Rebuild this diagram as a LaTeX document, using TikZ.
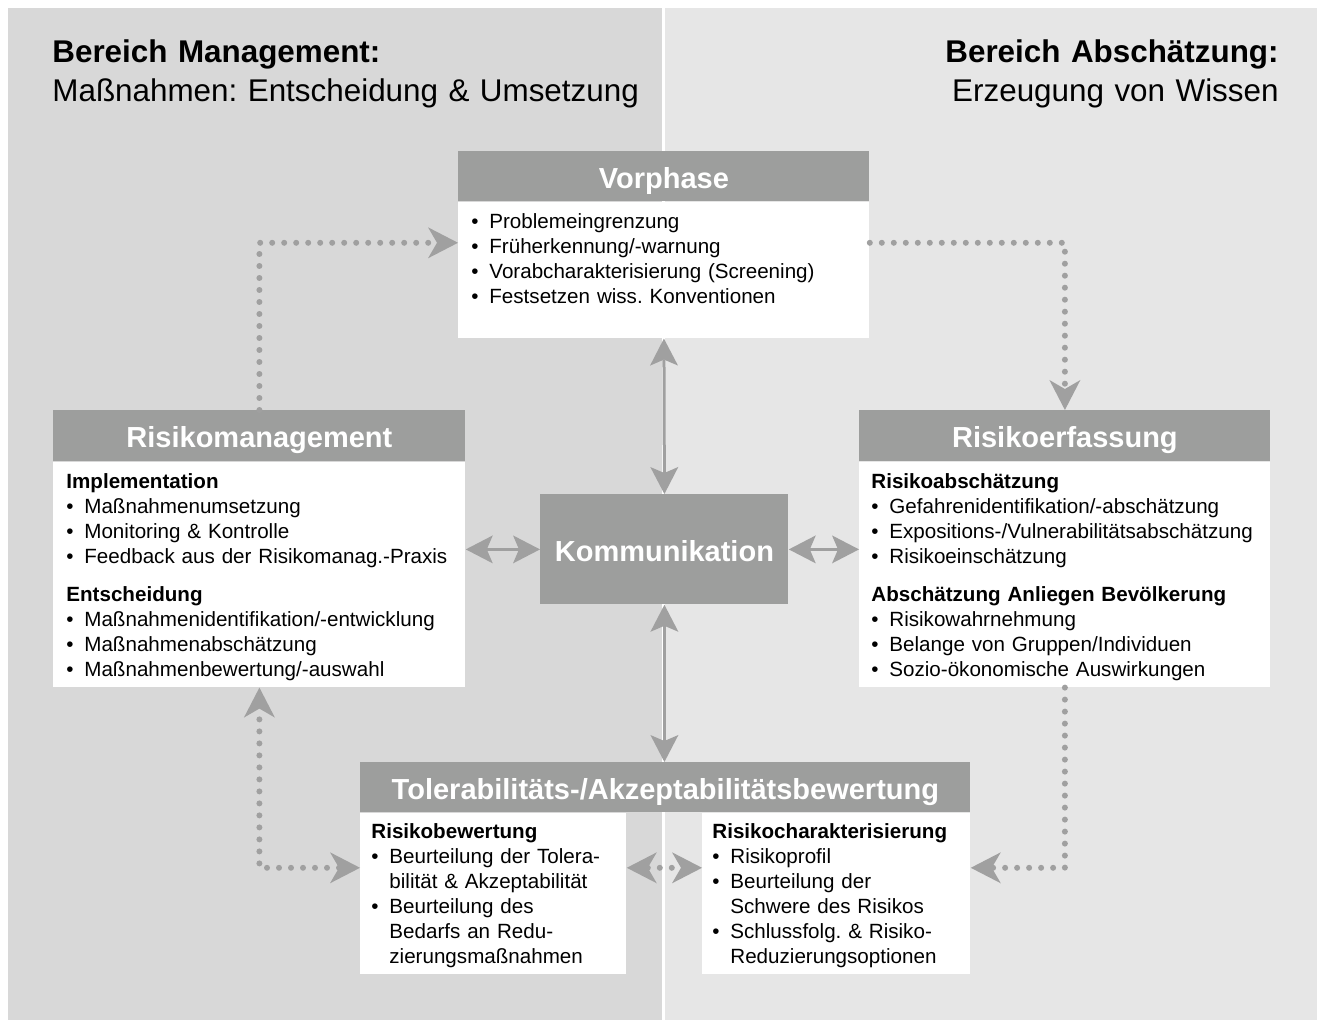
\documentclass[tikz,border=0pt]{standalone}
\usepackage{fontspec}
\setmainfont{Liberation Sans}
\frenchspacing
\usetikzlibrary{positioning,calc,arrows.meta}
\definecolor{riskpanelleft}{RGB}{216,216,216}
\definecolor{riskpanelright}{RGB}{230,230,230}
\definecolor{riskhead}{RGB}{157,158,157}
\definecolor{risklink}{RGB}{160,160,160}
\newcommand{\itm}{\makebox[9pt][l]{\textbullet}}
\newcommand{\cnt}{\hspace*{9pt}}
\tikzset{
    flowtip/.tip={Stealth[length=13.5pt,width=14pt,inset=3pt,line width=0pt]},
    dottip/.tip={Stealth[length=15pt,width=15.5pt,inset=4.5pt,line width=0pt]},
    risk head/.style={
        rectangle,
        fill=riskhead,
        text=white,
        font=\bfseries\fontsize{14.5}{17}\selectfont,
        text height=12pt,
        text depth=0pt,
        inner sep=0pt,
        anchor=north west,
        minimum height=25pt
    },
    risk body/.style={
        rectangle,
        fill=white,
        inner sep=0pt,
        minimum height=#1
    },
    risk list/.style={
        anchor=base west,
        inner sep=0pt,
        text width=#1,
        align=left,
        font=\fontsize{10.3}{12.5}\selectfont
    },
    area title/.style={
        inner sep=0pt,
        text width=320pt,
        font=\fontsize{15.7}{19.5}\selectfont
    },
    flow/.style={draw=risklink, line width=1.5pt, flowtip-flowtip},
    dotted link/.style={draw=risklink, line width=3pt, line cap=round, dash pattern=on 0pt off 6pt}
}

\begin{document}
\begin{tikzpicture}[x=0.5pt,y=-0.5pt]
    \useasboundingbox (0,0) rectangle (1317,1020);
    %two areas behind the diagram
    \fill[white] (0,0) rectangle (1317,1020);
    \fill[riskpanelleft] (8,8) rectangle (662,1020);
    \fill[riskpanelright] (665,8) rectangle (1317,1020);

    \node[area title, anchor=base west, align=left] (management-title) at (52,63) {\textbf{Bereich Management:}\\Maßnahmen: Entscheidung \& Umsetzung};
    \node[area title, anchor=base east, align=right] (assessment-title) at (1279,63) {\textbf{Bereich Abschätzung:}\\Erzeugung von Wissen};

    %Vorphase
    \node[risk head, minimum width=205.5pt] (vorphase) at (458,151) {Vorphase};
    \node[risk body=68pt, minimum width=205.5pt, below right=0pt and 0pt of vorphase.south west] (vorphase-body) {};
    \node[risk list=195pt] (vorphase-list) at ($(vorphase-body.north west)+(13,27)$) {\itm Problemeingrenzung\\
        \itm Früherkennung/-warnung\\
        \itm Vorabcharakterisierung (Screening)\\
        \itm Festsetzen wiss. Konventionen};

    %Risikomanagement
    \node[risk head, minimum width=206pt, minimum height=25.5pt] (risikomanagement) at (53,410) {Risikomanagement};
    \node[risk body=112.5pt, minimum width=206pt, below right=0pt and 0pt of risikomanagement.south west] (risikomanagement-body) {};
    \node[risk list=198pt] (risikomanagement-list) at ($(risikomanagement-body.north west)+(13,27)$) {\textbf{Implementation}\\
        \itm Maßnahmenumsetzung\\
        \itm Monitoring \& Kontrolle\\
        \itm Feedback aus der Risikomanag.-Praxis\\[6.5pt]
        \textbf{Entscheidung}\\
        \itm Maßnahmenidentifikation/-entwicklung\\
        \itm Maßnahmenabschätzung\\
        \itm Maßnahmenbewertung/-auswahl};

    %Risikoerfassung
    \node[risk head, minimum width=205.5pt, minimum height=25.5pt] (risikoerfassung) at (859,410) {Risikoerfassung};
    \node[risk body=112.5pt, minimum width=205.5pt, below right=0pt and 0pt of risikoerfassung.south west] (risikoerfassung-body) {};
    \node[risk list=198pt] (risikoerfassung-list) at ($(risikoerfassung-body.north west)+(12,27)$) {\textbf{Risikoabschätzung}\\
        \itm Gefahrenidentifikation/-abschätzung\\
        \itm Expositions-/Vulnerabilitätsabschätzung\\
        \itm Risikoeinschätzung\\[6.5pt]
        \textbf{Abschätzung Anliegen Bevölkerung}\\
        \itm Risikowahrnehmung\\
        \itm Belange von Gruppen/Individuen\\
        \itm Sozio-ökonomische Auswirkungen};

    \node[risk head, minimum width=124pt, minimum height=55pt] (kommunikation) at (540,494) {Kommunikation};

    %Tolerabilitaet und Akzeptabilitaet, two halves
    \node[risk head, minimum width=305pt] (tolerab) at (360,762) {Tolerabilitäts-/Akzeptabilitätsbewertung};
    \node[risk body=80.5pt, minimum width=133pt, below right=0pt and 0pt of tolerab.south west] (bewertung-body) {};
    \node[risk body=80.5pt, minimum width=134pt, below left=0pt and 0pt of tolerab.south east] (charakter-body) {};
    \node[risk list=128pt] (bewertung-list) at ($(bewertung-body.north west)+(11,26)$) {\textbf{Risikobewertung}\\
        \itm Beurteilung der Tolera-\\
        \cnt bilität \& Akzeptabilität\\
        \itm Beurteilung des\\
        \cnt Bedarfs an Redu-\\
        \cnt zierungsmaßnahmen};
    \node[risk list=128pt] (charakter-list) at ($(charakter-body.north west)+(10,26)$) {\textbf{Risikocharakterisierung}\\
        \itm Risikoprofil\\
        \itm Beurteilung der\\
        \cnt Schwere des Risikos\\
        \itm Schlussfolg. \& Risiko-\\
        \cnt Reduzierungsoptionen};

    \coordinate (vorphase-in) at ($(vorphase-body.north west)+(0,41)$);
    \coordinate (vorphase-out) at ($(vorphase-body.north east)+(0,41)$);
    \coordinate (bewertung-in) at ($(bewertung-body.north west)+(0,55)$);
    \coordinate (bewertung-out) at ($(bewertung-body.north east)+(0,55)$);
    \coordinate (charakter-in) at ($(charakter-body.north east)+(0,55)$);
    \coordinate (charakter-out) at ($(charakter-body.north west)+(0,55)$);

    %dotted cycle round the boxes
    \draw[dotted link, -dottip] (risikomanagement.north) |- (vorphase-in);
    \draw[dotted link, -dottip] (vorphase-out) -| (risikoerfassung.north);
    \draw[dotted link, -dottip] (risikoerfassung-body.south) |- (charakter-in);
    \draw[dotted link, dottip-dottip] (bewertung-in) -| (risikomanagement-body.south);
    \draw[dotted link, dottip-dottip] (bewertung-out) -- (charakter-out);

    %communication in both directions
    \draw[flow] (vorphase-body.south) -- (kommunikation.north);
    \draw[flow] (kommunikation.south) -- (kommunikation.south |- tolerab.north);
    \draw[flow] (kommunikation.west) -- (kommunikation.west -| risikomanagement-body.east);
    \draw[flow] (kommunikation.east) -- (kommunikation.east -| risikoerfassung-body.west);
\end{tikzpicture}
\end{document}
